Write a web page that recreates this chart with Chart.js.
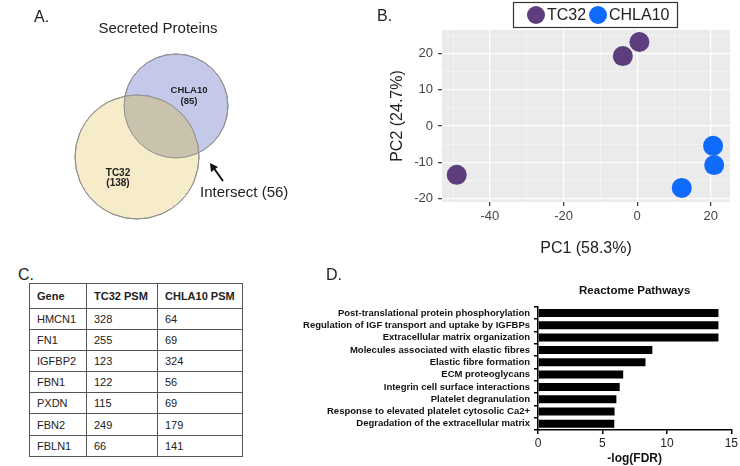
<!DOCTYPE html>
<html>
<head>
<meta charset="utf-8">
<script src="https://cdn.jsdelivr.net/npm/chart.js@4.4.1/dist/chart.umd.min.js"></script>
<style>
body { margin: 0; background: #fff; font-family: "Liberation Sans", Arial, sans-serif; }
#wrap { position: relative; width: 740px; height: 466px; overflow: hidden; }
canvas { display: block; }
.box { position: absolute; }
.tag { position: absolute; font-size: 16px; color: #222; line-height: 1; }
#psm { position: absolute; left: 29px; top: 283px; width: 214px; border-collapse: collapse; font-size: 11px; color: #222; }
#psm td, #psm th { border: 1px solid #555; text-align: left; padding: 0 0 0 7px; height: 20.2px; }
#psm th { height: 23.5px; font-weight: bold; }
</style>
</head>
<body>
<div id="wrap">
  <div class="box" style="left:0;top:0;width:330px;height:245px"><canvas id="venn"></canvas></div>
  <div class="box" style="left:370px;top:0;width:370px;height:260px"><canvas id="pca"></canvas></div>
  <div class="box" style="left:270px;top:270px;width:470px;height:196px"><canvas id="bars"></canvas></div>
  <div class="tag" style="left:18px;top:267px">C.</div>
  <div class="tag" style="left:326px;top:267px">D.</div>
  <div class="tag" style="left:377px;top:8px">B.</div>
  <table id="psm"></table>
</div>
<script>
// Panel A: Venn counts
const vennSets = ['TC32', 'CHLA10'];
const vennCounts = [138, 85];
const vennIntersect = 56;

// Panel B: PCA scores
const pcaGroups = ['TC32', 'CHLA10'];
const tc32PC1 = [-49, -3.9, 0.6];
const tc32PC2 = [-13.5, 19.3, 23.2];
const chla10PC1 = [20.6, 20.9, 12.1];
const chla10PC2 = [-5.5, -10.8, -17.1];
const pc1Ticks = [-40, -20, 0, 20];
const pc2Ticks = [-20, -10, 0, 10, 20];

// Panel C: PSM table
const tableHeader = ['Gene', 'TC32 PSM', 'CHLA10 PSM'];
const genes = ['HMCN1', 'FN1', 'IGFBP2', 'FBN1', 'PXDN', 'FBN2', 'FBLN1'];
const tc32Psm = [328, 255, 123, 122, 115, 249, 66];
const chla10Psm = [64, 69, 324, 56, 69, 179, 141];

// Panel D: Reactome pathways
const pathways = [
    'Post-translational protein phosphorylation',
    'Regulation of IGF transport and uptake by IGFBPs',
    'Extracellular matrix organization',
    'Molecules associated with elastic fibres',
    'Elastic fibre formation',
    'ECM proteoglycans',
    'Integrin cell surface interactions',
    'Platelet degranulation',
    'Response to elevated platelet cytosolic Ca2+',
    'Degradation of the extracellular matrix'
];
const pathwayScores = [14.0, 14.0, 14.0, 8.87, 8.34, 6.61, 6.34, 6.08, 5.94, 5.92];
const fdrTicks = [0, 5, 10, 15];

const FONT = '"Liberation Sans", Arial, sans-serif';
Chart.defaults.font.family = FONT;
Chart.defaults.color = '#222';

// ---------- table ----------
const tbl = document.getElementById('psm');
tbl.innerHTML = '<tr>' + tableHeader.map(h => '<th>' + h + '</th>').join('') + '</tr>' +
    genes.map((g, i) => `<tr><td style="width:49px">${g}</td><td style="width:63px">${tc32Psm[i]}</td><td>${chla10Psm[i]}</td></tr>`).join('');

// ---------- Venn (bubble chart) ----------
// circle layout in canvas pixels; the bubble controller insets the chart area by the
// largest radius + border, so the hidden scales are set to that inset range
const vennLayout = [ {x: 137, y: 157, r: 62}, {x: 176, y: 106, r: 52} ];
const vennInset = 63;
const vennW = 330, vennH = 245;
const vennFill = ['#f6ecc9', '#c4c9ea'];
const vennOverlap = '#c9c2ad';

const vennDecor = {
    id: 'vennDecor',
    afterDatasetsDraw(chart) {
        const ctx = chart.ctx;
        const a = chart.getDatasetMeta(0).data[0];
        const b = chart.getDatasetMeta(1).data[0];
        ctx.save();
        ctx.beginPath(); ctx.arc(a.x, a.y, a.options.radius, 0, Math.PI * 2); ctx.clip();
        ctx.beginPath(); ctx.arc(b.x, b.y, b.options.radius, 0, Math.PI * 2);
        ctx.fillStyle = vennOverlap; ctx.fill();
        ctx.restore();
        ctx.save();
        ctx.strokeStyle = '#8f8f8f'; ctx.lineWidth = 1;
        [a, b].forEach(p => { ctx.beginPath(); ctx.arc(p.x, p.y, p.options.radius, 0, Math.PI * 2); ctx.stroke(); });

        ctx.fillStyle = '#222';
        ctx.textAlign = 'center'; ctx.textBaseline = 'middle';
        ctx.font = 'bold 10px ' + FONT;
        ctx.fillText(vennSets[0], a.x - 19, a.y + 16);
        ctx.fillText('(' + vennCounts[0] + ')', a.x - 19, a.y + 26);
        ctx.font = 'bold 9.5px ' + FONT;
        ctx.fillText(vennSets[1], b.x + 13, b.y - 16);
        ctx.fillText('(' + vennCounts[1] + ')', b.x + 13, b.y - 5);

        ctx.font = '15px ' + FONT;
        ctx.fillText('Secreted Proteins', 158, 29);
        ctx.textAlign = 'left';
        ctx.font = '16px ' + FONT;
        ctx.fillText('A.', 34, 18);
        ctx.font = '15px ' + FONT;
        ctx.fillText('Intersect (' + vennIntersect + ')', 200, 193);

        // arrow
        ctx.strokeStyle = '#111'; ctx.lineWidth = 2;
        ctx.beginPath(); ctx.moveTo(223, 181); ctx.lineTo(213, 167); ctx.stroke();
        ctx.fillStyle = '#111';
        ctx.beginPath(); ctx.moveTo(210, 163); ctx.lineTo(218, 167); ctx.lineTo(211, 172); ctx.closePath(); ctx.fill();
        ctx.restore();
    }
};

new Chart(document.getElementById('venn'), {
    type: 'bubble',
    data: {
        datasets: vennSets.map((s, i) => ({
            label: s,
            data: [{x: vennLayout[i].x, y: vennLayout[i].y, r: vennLayout[i].r}],
            backgroundColor: vennFill[i],
            borderColor: '#8f8f8f',
            borderWidth: 1,
            clip: false
        }))
    },
    options: {
        responsive: true, maintainAspectRatio: false, animation: false,
        layout: { padding: 0 },
        plugins: { legend: { display: false }, tooltip: { enabled: false } },
        scales: {
            x: { display: false, min: vennInset, max: vennW - vennInset },
            y: { display: false, min: vennInset, max: vennH - vennInset, reverse: true }
        }
    },
    plugins: [vennDecor]
});

// ---------- PCA scatter ----------
const pcaColors = ['#5d3d7e', '#0f6bfb'];

// major ticks plus ggplot-style minor grid lines halfway between them
function withMinor(major, lo, hi) {
    const step = major[1] - major[0];
    const out = [];
    for (let v = major[0] - step / 2; v >= lo; v -= step) out.unshift({value: v, minor: true});
    major.forEach((v, i) => {
        out.push({value: v});
        if (v + step / 2 <= hi) out.push({value: v + step / 2, minor: true});
    });
    return out;
}
const isMinor = ctx => ctx.tick && ctx.tick.minor;
const pcaGrid = {
    color: c => isMinor(c) ? 'rgba(255,255,255,0.55)' : '#ffffff',
    lineWidth: c => isMinor(c) ? 0.7 : 1.3,
    tickColor: c => isMinor(c) ? 'rgba(0,0,0,0)' : '#444',
    tickLength: 4
};

const pcaDecor = {
    id: 'pcaDecor',
    beforeDraw(chart) {
        const {ctx, chartArea: c} = chart;
        ctx.save();
        ctx.fillStyle = '#ebebeb';
        ctx.fillRect(c.left, c.top, c.right - c.left, c.bottom - c.top);
        ctx.restore();
    },
    afterDraw(chart) {
        const ctx = chart.ctx;
        ctx.save();
        ctx.strokeStyle = '#333'; ctx.lineWidth = 1.2;
        ctx.strokeRect(143.5, 2.5, 164, 25);
        ctx.font = '16px ' + FONT;
        ctx.textBaseline = 'middle';
        const xs = [166, 228];
        chart.data.datasets.forEach((d, i) => {
            ctx.fillStyle = d.backgroundColor;
            ctx.beginPath(); ctx.arc(xs[i], 15, 9, 0, Math.PI * 2); ctx.fill();
            ctx.fillStyle = '#222';
            ctx.fillText(d.label, xs[i] + 11, 15.5);
        });
        ctx.restore();
    }
};

new Chart(document.getElementById('pca'), {
    type: 'scatter',
    data: {
        datasets: [
            { label: pcaGroups[0], data: tc32PC1.map((x, i) => ({x, y: tc32PC2[i]})), backgroundColor: pcaColors[0] },
            { label: pcaGroups[1], data: chla10PC1.map((x, i) => ({x, y: chla10PC2[i]})), backgroundColor: pcaColors[1] }
        ]
    },
    options: {
        responsive: true, maintainAspectRatio: false, animation: false,
        layout: { padding: { top: 30, right: 5, bottom: 2, left: 0 } },
        elements: { point: { radius: 10, borderWidth: 0 } },
        plugins: { legend: { display: false }, tooltip: { enabled: false } },
        scales: {
            x: {
                min: -53, max: 25.2,
                afterBuildTicks: s => { s.ticks = withMinor(pc1Ticks, -53, 25.2); },
                afterFit: s => { s.height = 56; },
                border: { display: false },
                grid: pcaGrid,
                ticks: { color: '#444', font: { size: 13 }, padding: 3,
                         callback: function (v, i, t) { return t[i].minor ? '' : v; } },
                title: { display: true, text: 'PC1 (58.3%)', font: { size: 16 }, color: '#222', padding: { top: 4, bottom: 0 } }
            },
            y: {
                min: -21, max: 26.5,
                afterBuildTicks: s => { s.ticks = withMinor(pc2Ticks, -21, 26.5); },
                afterFit: s => { s.width = 72; },
                border: { display: false },
                grid: pcaGrid,
                ticks: { color: '#444', font: { size: 13 }, padding: 5,
                         callback: function (v, i, t) { return t[i].minor ? '' : v; } },
                title: { display: true, text: 'PC2 (24.7%)', font: { size: 16 }, color: '#222', padding: { top: 18, bottom: 0 } }
            }
        }
    },
    plugins: [pcaDecor]
});

// ---------- Reactome bars ----------
new Chart(document.getElementById('bars'), {
    type: 'bar',
    data: {
        labels: pathways,
        datasets: [{ label: '-log(FDR)', data: pathwayScores, backgroundColor: '#000', barPercentage: 0.65, categoryPercentage: 1 }]
    },
    options: {
        indexAxis: 'y',
        responsive: true, maintainAspectRatio: false, animation: false,
        layout: { padding: { top: 14, right: 0, bottom: 0, left: 0 } },
        plugins: {
            legend: { display: false }, tooltip: { enabled: false },
            title: { display: true, text: 'Reactome Pathways', fullSize: false, color: '#111',
                     font: { size: 11.5, weight: 'bold' }, padding: { top: 0, bottom: 9 } }
        },
        scales: {
            x: {
                min: 0, max: 15,
                afterBuildTicks: s => { s.ticks = fdrTicks.map(v => ({value: v})); },
                afterFit: s => { s.height = 36; },
                border: { display: true, color: '#000', width: 1.5 },
                grid: { drawOnChartArea: false, tickColor: '#000', tickLength: 4, lineWidth: 1.5 },
                ticks: { color: '#222', font: { size: 12 }, padding: 2 },
                title: { display: true, text: '-log(FDR)', color: '#111', font: { size: 12, weight: 'bold' }, padding: { top: 2, bottom: 0 } }
            },
            y: {
                afterFit: s => { s.width = 268; },
                border: { display: true, color: '#000', width: 1.5 },
                grid: { drawOnChartArea: false, tickColor: '#000', tickLength: 4, lineWidth: 1.5 },
                ticks: { color: '#111', font: { size: 9.5, weight: 'bold' }, padding: 4, autoSkip: false }
            }
        }
    }
});
</script>
</body>
</html>
